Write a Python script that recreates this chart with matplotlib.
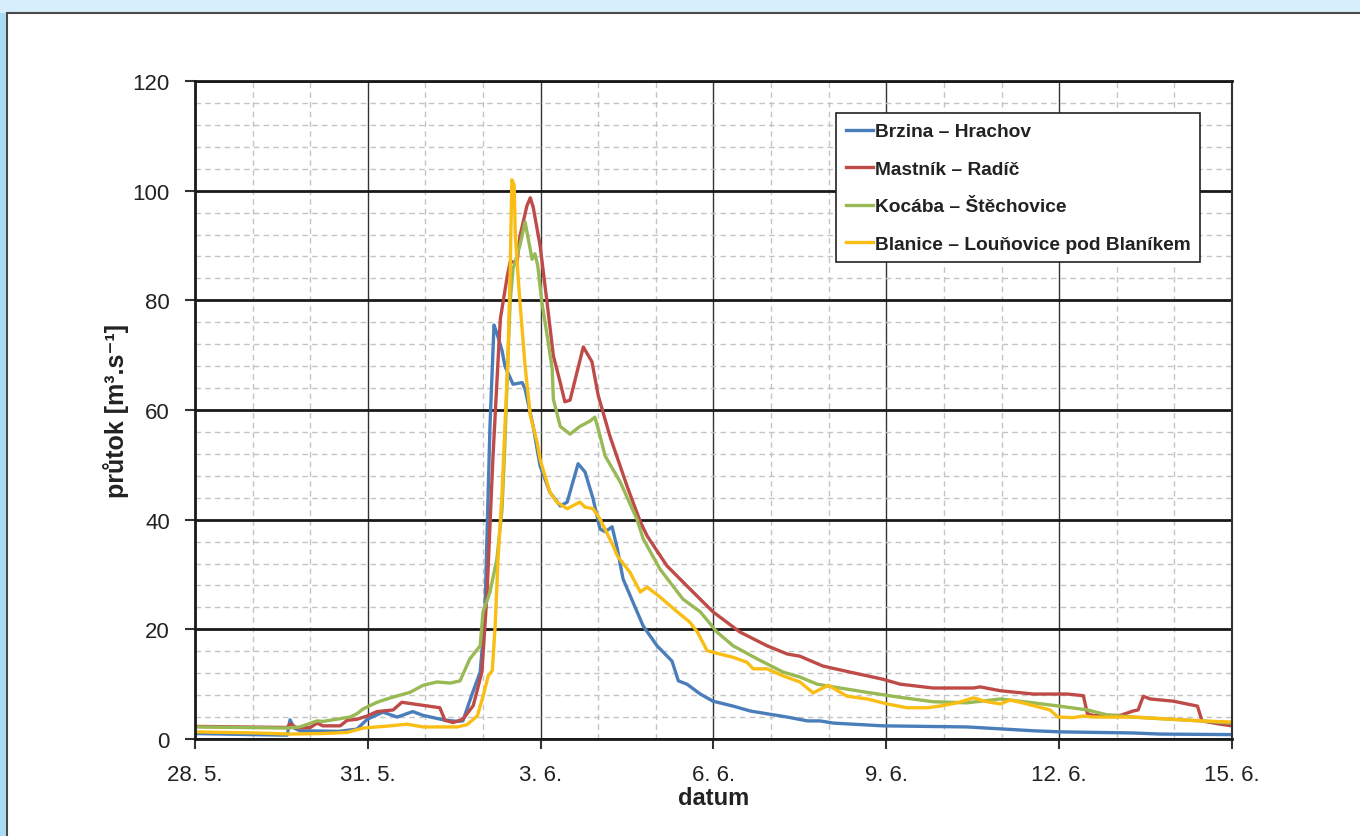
import matplotlib.pyplot as plt
from matplotlib.patches import Rectangle
from matplotlib.ticker import MultipleLocator

plt.rcParams['font.family'] = ['Liberation Sans', 'DejaVu Sans']

# cas ve dnech od 28. 5. 0:00
tick_days = [0, 3, 6, 9, 12, 15, 18]
tick_labels = ["28. 5.", "31. 5.", "3. 6.", "6. 6.", "9. 6.", "12. 6.", "15. 6."]

brzina_t = [0, 1.0, 1.6, 1.65, 1.72, 1.82, 2.5, 2.81, 2.99, 3.26, 3.51, 3.78, 3.96, 4.31, 4.55,
            4.65, 4.81, 4.95, 5.03, 5.12, 5.19, 5.24, 5.33, 5.38, 5.52, 5.68, 5.73, 5.87, 5.99,
            6.16, 6.34, 6.46, 6.56, 6.65, 6.77, 6.91, 7.03, 7.12, 7.24, 7.33, 7.43, 7.60, 7.78,
            8.02, 8.28, 8.39, 8.54, 8.77, 8.99, 9.34, 9.64, 9.93, 10.28, 10.63, 10.85, 11.08,
            11.94, 13.40, 14.55, 15.02, 16.28, 16.75, 18]
brzina_q = [1.0, 0.8, 0.7, 3.5, 2.0, 1.5, 1.4, 1.8, 3.6, 4.9, 4.0, 5.0, 4.3, 3.5, 3.2,
            3.3, 8.2, 12.2, 22, 57, 75.5, 74, 70.8, 68, 64.7, 65, 63.8, 57, 49.8,
            45, 42.5, 43.2, 46.9, 50.2, 48.7, 43.8, 38.3, 37.8, 38.7, 34.7, 29.2, 25, 20.6,
            17, 14.2, 10.6, 10, 8.2, 6.9, 6.0, 5.1, 4.6, 4.0, 3.3, 3.3, 2.9,
            2.4, 2.2, 1.5, 1.3, 1.1, 0.9, 0.8]

mastnik_t = [0, 1.6, 1.65, 1.77, 2.0, 2.12, 2.22, 2.52, 2.64, 2.81, 2.99, 3.16, 3.44, 3.59,
             3.85, 4.25, 4.34, 4.48, 4.65, 4.83, 4.98, 5.07, 5.17, 5.26, 5.30, 5.42, 5.47,
             5.59, 5.64, 5.76, 5.82, 5.87, 5.99, 6.11, 6.22, 6.34, 6.42, 6.51, 6.74, 6.89,
             7.00, 7.20, 7.50, 7.73, 7.85, 8.19, 8.54, 8.99, 9.46, 9.93, 10.28, 10.50, 10.90,
             11.37, 11.94, 12.24, 12.81, 13.51, 13.63, 13.98, 14.55, 15.14, 15.42, 15.49,
             15.59, 16.06, 16.28, 16.37, 16.46, 16.58, 16.98, 17.40, 17.48, 17.80, 18]
mastnik_q = [2.3, 2.1, 2.8, 2.0, 2.1, 2.9, 2.4, 2.4, 3.4, 3.6, 4.2, 5.0, 5.3, 6.7,
             6.3, 5.7, 3.4, 3.0, 3.6, 6.1, 12.2, 26.8, 51, 69, 76.6, 84.4, 87,
             87, 91.7, 97.2, 98.7, 97, 90, 79.7, 69.9, 65, 61.5, 61.8, 71.5, 68.8,
             62.6, 55.3, 46.1, 39.6, 37, 31.6, 27.9, 23.2, 19.5, 17, 15.5, 15.1, 13.3,
             12.2, 10.9, 10, 9.3, 9.3, 9.5, 8.8, 8.2, 8.2, 7.9, 4.6,
             4.3, 4.3, 5.1, 5.3, 7.8, 7.3, 6.9, 6.0, 3.3, 2.7, 2.4]

kocaba_t = [0, 1.6, 1.82, 2.12, 2.22, 2.69, 2.81, 2.92, 3.16, 3.39, 3.56, 3.73, 3.96, 4.20,
            4.43, 4.60, 4.77, 4.95, 5.00, 5.12, 5.24, 5.33, 5.38, 5.43, 5.47, 5.52, 5.64,
            5.73, 5.85, 5.90, 5.95, 6.02, 6.13, 6.20, 6.22, 6.34, 6.51, 6.68, 6.86, 6.94,
            7.00, 7.12, 7.38, 7.67, 7.78, 8.07, 8.47, 8.77, 9.06, 9.34, 9.76, 10.21, 10.50,
            10.80, 11.08, 11.67, 12.24, 12.81, 13.40, 13.98, 14.55, 15.14, 15.49, 15.83,
            16.28, 17.45, 18]
kocaba_q = [2.2, 2.0, 2.2, 3.3, 3.2, 4.0, 4.6, 5.5, 6.7, 7.5, 8.0, 8.5, 9.8, 10.4,
            10.2, 10.6, 14.6, 17, 23.2, 26.8, 32.8, 42, 54, 69, 79.7, 85.7, 90,
            94.3, 87.5, 88.5, 86.3, 79.7, 72.4, 67.5, 62, 57, 55.6, 57, 58, 58.7,
            56.5, 51.6, 46.9, 40.1, 36.5, 31, 25.5, 23.2, 19.5, 17, 14.6, 12.2, 11.3,
            10, 9.5, 8.5, 7.6, 6.8, 6.6, 7.3, 6.6, 5.8, 5.3, 4.4,
            4.0, 3.3, 2.9]

blanice_t = [0, 1.08, 1.65, 2.22, 2.64, 2.92, 3.39, 3.68, 3.96, 4.55, 4.72, 4.90, 4.95, 5.00,
             5.09, 5.16, 5.21, 5.26, 5.33, 5.38, 5.43, 5.47, 5.50, 5.54, 5.56, 5.64, 5.73,
             5.82, 5.94, 5.99, 6.16, 6.28, 6.46, 6.68, 6.77, 6.91, 7.03, 7.26, 7.33, 7.55,
             7.73, 7.85, 8.07, 8.37, 8.59, 8.72, 8.89, 9.11, 9.34, 9.58, 9.69, 9.93, 10.21,
             10.50, 10.73, 10.99, 11.32, 11.67, 12.01, 12.36, 12.71, 12.93, 13.23, 13.51,
             13.75, 13.98, 14.15, 14.44, 14.84, 14.98, 15.24, 15.42, 15.59, 16.28, 17.45, 18]
blanice_q = [1.3, 1.1, 0.9, 1.0, 1.2, 2.0, 2.4, 2.7, 2.2, 2.2, 2.6, 4.2, 6, 7.8,
             11.5, 12.5, 20.6, 32.8, 45, 57, 69, 85, 102, 101, 91.7, 79.7, 68,
             59, 54, 51, 45, 43.2, 42, 43.2, 42.3, 42, 40.1, 35.2, 33.4, 30.4,
             26.8, 27.7, 25.9, 23.2, 21.3, 19.5, 16.1, 15.5, 14.9, 14, 12.8, 12.8, 11.5,
             10.4, 8.4, 9.8, 7.8, 7.3, 6.4, 5.7, 5.7, 6, 6.6, 7.5,
             6.8, 6.4, 7.1, 6.4, 5.3, 4.0, 3.9, 4.2, 4.0, 4.0, 3.3, 3.1]

fig = plt.figure(figsize=(13.6, 8.37), dpi=100, facecolor='#d5eef9')
# bily panel s ramem
fig.patches.append(Rectangle((7 / 1360, -0.05), 1.05, 1 - 14 / 837 + 0.05,
                             transform=fig.transFigure, facecolor='white',
                             edgecolor='#4a4a4a', linewidth=1.5, zorder=-2))
fig.patches.append(Rectangle((0, 0), 6 / 1360, 1 - 14 / 837,
                             transform=fig.transFigure, facecolor='#a9dcf4',
                             edgecolor='none', zorder=-2))

ax = fig.add_axes([195 / 1360, 1 - 740 / 837, 1037 / 1360, 658 / 837])
ax.set_zorder(5)
ax.set_facecolor('white')

ax.plot(brzina_t, brzina_q, color='#4a7ebb', lw=2.4, label='Brzina – Hrachov')
ax.plot(mastnik_t, mastnik_q, color='#be4b48', lw=2.4, label='Mastník – Radíč')
ax.plot(kocaba_t, kocaba_q, color='#98b954', lw=2.4, label='Kocába – Štěchovice')
ax.plot(blanice_t, blanice_q, color='#f9bd13', lw=2.4, label='Blanice – Louňovice pod Blaníkem')

ax.set_xlim(0, 18)
ax.set_ylim(0, 120)
ax.set_xticks(tick_days)
ax.set_xticklabels(tick_labels)
ax.xaxis.set_minor_locator(MultipleLocator(1))
ax.yaxis.set_major_locator(MultipleLocator(20))
ax.yaxis.set_minor_locator(MultipleLocator(4))

ax.grid(which='major', axis='y', color='#1a1a1a', lw=2)
ax.grid(which='major', axis='x', color='#333333', lw=1)
ax.grid(which='minor', color='#c4c4c4', lw=1, ls=(0, (4, 3)))
ax.set_axisbelow(True)

for s in ['left', 'bottom', 'top']:
    ax.spines[s].set_linewidth(2)
    ax.spines[s].set_color('#1a1a1a')
ax.spines['right'].set_linewidth(1.5)
ax.spines['right'].set_color('#333333')

ax.tick_params(which='major', direction='out', length=7, width=1.5, color='#333333',
               labelsize=16, labelcolor='#222222', pad=11)
ax.tick_params(which='minor', length=0)

ax.set_xlabel('datum', fontsize=17, fontweight='bold', color='#222222', labelpad=1)
ax.set_ylabel('průtok [m³.s⁻¹]', fontsize=18, fontweight='bold', color='#222222',
              labelpad=3)

leg = ax.legend(loc='upper right', bbox_to_anchor=(0.969, 0.951), fancybox=False,
                edgecolor='#222222', framealpha=1, handlelength=1.4, handletextpad=0.1,
                labelspacing=1.05, borderpad=0.5, borderaxespad=0,
                prop={'size': 13.8, 'weight': 'bold'})
leg.get_frame().set_linewidth(1.2)
for txt in leg.get_texts():
    txt.set_color('#222222')

fig.savefig('out.png', dpi=100, facecolor=fig.get_facecolor())
